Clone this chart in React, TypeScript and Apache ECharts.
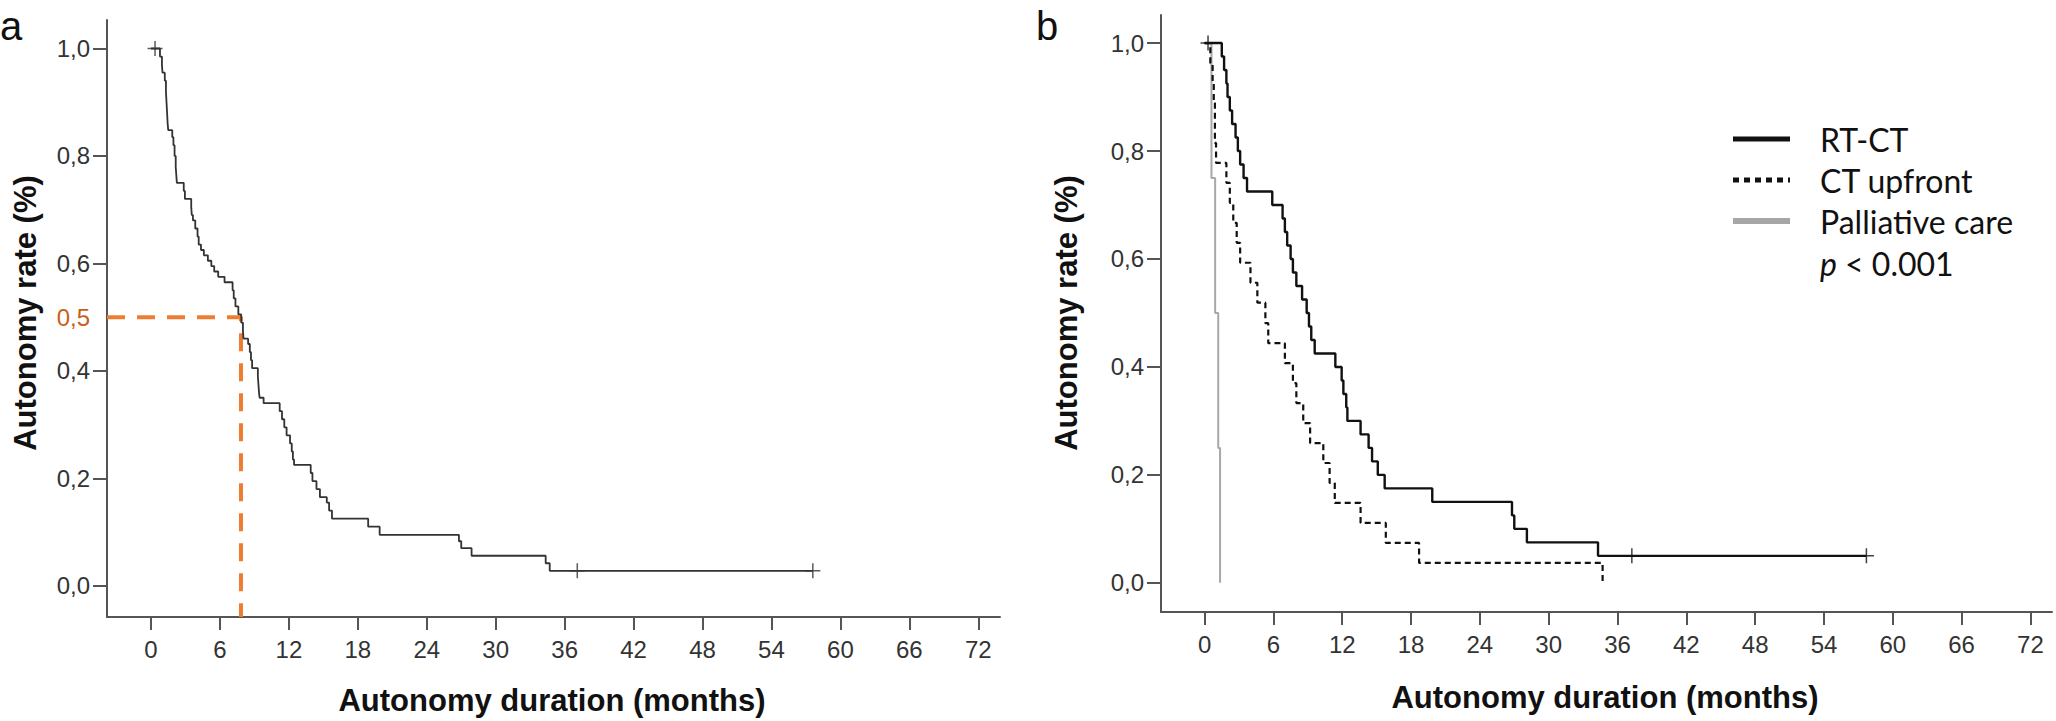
import { useEffect, useRef } from "react";
import * as echarts from "echarts";

// axis ticks
const monthTicks = [0, 6, 12, 18, 24, 30, 36, 42, 48, 54, 60, 66, 72];
const rateTicks = [0, 0.2, 0.4, 0.6, 0.8, 1.0];
const rateLabelsA = [0, 0.2, 0.4, 0.5, 0.6, 0.8, 1.0];

// panel a: whole cohort (month of event, rate after event)
const overallMonths = [
  0, 0.78, 0.95, 1.0, 1.2, 1.3, 1.35, 1.4, 1.45, 1.5, 1.85, 1.95, 2.05, 2.15, 2.2, 2.25,
  2.85, 2.95, 3.5, 3.55, 3.65, 3.85, 4.05, 4.15, 4.35, 4.6, 4.95, 5.25, 5.5, 5.85, 6.4,
  7.1, 7.2, 7.35, 7.6, 7.85, 8.0, 8.05, 8.45, 8.6, 8.7, 8.8, 9.3, 9.35, 9.4, 9.45, 9.8,
  11.2, 11.4, 11.6, 11.8, 12.1, 12.25, 12.35, 12.45, 13.9, 14.05, 14.4, 14.7, 15.3, 15.5,
  15.75, 18.9, 19.9, 26.8, 27.0, 27.9, 34.35, 34.7, 57.6,
];
const overallRate = [
  1, 0.985, 0.97, 0.955, 0.94, 0.92, 0.9, 0.88, 0.86, 0.848, 0.835, 0.82, 0.8, 0.78, 0.765, 0.75,
  0.735, 0.72, 0.705, 0.69, 0.68, 0.665, 0.65, 0.635, 0.625, 0.615, 0.605, 0.595, 0.585, 0.575, 0.565,
  0.55, 0.535, 0.52, 0.505, 0.49, 0.475, 0.46, 0.45, 0.435, 0.42, 0.405, 0.39, 0.375, 0.36, 0.35, 0.34,
  0.325, 0.31, 0.295, 0.28, 0.265, 0.25, 0.235, 0.225, 0.21, 0.195, 0.18, 0.165, 0.155, 0.14,
  0.125, 0.11, 0.095, 0.083, 0.07, 0.056, 0.042, 0.028, 0.028,
];
const overallCensorMonths = [0.35, 37.1, 57.6];
const overallCensorRate = [1, 0.028, 0.028];
const medianMonths = 7.83;
const medianRate = 0.5;

// panel b: by treatment
const rtctMonths = [
  0, 1.5, 1.7, 1.9, 2.0, 2.2, 2.4, 2.7, 2.9, 3.1, 3.4, 3.7, 5.9, 6.8, 7.0, 7.2, 7.5, 7.7, 8.0,
  8.5, 8.9, 9.1, 9.3, 9.6, 11.4, 11.95, 12.1, 12.35, 12.45, 13.6, 14.3, 14.6, 15.1, 15.7,
  19.85, 26.8, 27.0, 28.1, 34.3, 57.7,
];
const rtctRate = [
  1, 0.975, 0.95, 0.925, 0.9, 0.875, 0.85, 0.825, 0.8, 0.775, 0.75, 0.725, 0.7, 0.675, 0.65, 0.625, 0.6, 0.575, 0.55,
  0.525, 0.5, 0.475, 0.45, 0.425, 0.4, 0.375, 0.35, 0.325, 0.3, 0.275, 0.25, 0.225, 0.2, 0.175,
  0.15, 0.125, 0.1, 0.075, 0.05, 0.05,
];
const rtctCensorMonths = [0.3, 37.25, 57.7];
const rtctCensorRate = [1, 0.05, 0.05];

const ctMonths = [
  0, 0.5, 0.7, 0.8, 0.9, 1.0, 1.9, 2.2, 2.5, 2.8, 3.1, 4.0, 4.6, 5.3, 5.55, 7.0, 7.7, 8.0,
  8.6, 9.2, 10.35, 10.9, 11.35, 13.6, 15.8, 18.7, 34.7,
];
const ctRate = [
  1, 0.963, 0.926, 0.889, 0.815, 0.778, 0.741, 0.704, 0.667, 0.63, 0.593, 0.556, 0.519, 0.481, 0.444, 0.407, 0.37, 0.333,
  0.296, 0.259, 0.222, 0.185, 0.148, 0.111, 0.074, 0.037, 0,
];

const palliativeMonths = [0, 0.6, 0.92, 1.19, 1.35];
const palliativeRate = [1, 0.75, 0.5, 0.25, 0];

const legendLabels = ["RT-CT", "CT upfront", "Palliative care"];
const pValueLabel = "< 0.001";

const xTitle = "Autonomy duration (months)";
const yTitle = "Autonomy rate (%)";

const pairs = (xs: number[], ys: number[]) => xs.map((x, i) => [x, ys[i]]);

const tickFont = "Liberation Sans, Arial, sans-serif";
const legendFont = "Lato, 'Noto Sans', sans-serif";
const axisGray = "#555";
const plusSymbol =
  "path://M7.2,0 H8.8 V7.2 H16 V8.8 H8.8 V16 H7.2 V8.8 H0 V7.2 H7.2 Z";

const rateFormat = (v: number) => v.toFixed(1).replace(".", ",");

const makeXAxis = (gridIndex: number, min: number, max: number) => ({
  gridIndex,
  type: "value" as const,
  min,
  max,
  axisLine: { show: true, onZero: false, lineStyle: { color: axisGray, width: 2 } },
  axisTick: {
    show: true,
    length: 13,
    customValues: monthTicks,
    lineStyle: { color: axisGray, width: 2 },
  },
  axisLabel: {
    customValues: monthTicks,
    margin: 20,
    color: "#333",
    fontFamily: tickFont,
    fontSize: 24,
  },
  splitLine: { show: false },
});

const makeYAxis = (gridIndex: number, min: number, max: number, labels: number[]) => ({
  gridIndex,
  type: "value" as const,
  min,
  max,
  axisLine: { show: true, onZero: false, lineStyle: { color: axisGray, width: 2 } },
  axisTick: {
    show: true,
    length: 14,
    customValues: rateTicks,
    lineStyle: { color: axisGray, width: 2 },
  },
  axisLabel: {
    customValues: labels,
    margin: 17,
    color: "#333",
    fontFamily: tickFont,
    fontSize: 24,
    formatter: (v: number) =>
      Math.abs(v - medianRate) < 1e-6 ? `{o|${rateFormat(v)}}` : rateFormat(v),
    rich: {
      o: { color: "#c8601a", fontFamily: tickFont, fontSize: 24 },
    },
  },
  splitLine: { show: false },
});

const App = () => {
  const chartRef = useRef<HTMLDivElement | null>(null);

  useEffect(() => {
    if (!chartRef.current) {
      return;
    }
    const chart = echarts.init(chartRef.current, undefined, { renderer: "svg" });

    const stepLine = (
      data: number[][],
      axis: number,
      color: string,
      width: number,
      type: "solid" | number[] = "solid",
    ) => ({
      type: "line" as const,
      xAxisIndex: axis,
      yAxisIndex: axis,
      data,
      step: "end" as const,
      showSymbol: false,
      symbol: "none",
      lineStyle: { color, width, type },
      z: 3,
    });

    const censor = (data: number[][], axis: number, color: string) => ({
      type: "scatter" as const,
      xAxisIndex: axis,
      yAxisIndex: axis,
      data,
      symbol: plusSymbol,
      symbolSize: 15,
      itemStyle: { color },
      z: 4,
    });

    const titleStyle = {
      fontFamily: tickFont,
      fontWeight: "bold" as const,
      fontSize: 31,
      fill: "#111",
      align: "center" as const,
      verticalAlign: "middle" as const,
    };
    const legendTextStyle = {
      fontFamily: legendFont,
      fontSize: 32,
      fill: "#111",
      align: "left" as const,
      verticalAlign: "middle" as const,
    };
    const letterStyle = {
      fontFamily: tickFont,
      fontSize: 40,
      fill: "#111",
      align: "left" as const,
      verticalAlign: "middle" as const,
    };
    const legendRows = [139, 180, 221];
    const legendStrokes = [
      { stroke: "#111", lineWidth: 5 },
      { stroke: "#111", lineWidth: 5, lineDash: [6, 5] },
      { stroke: "#a6a6a6", lineWidth: 6 },
    ];

    const option: echarts.EChartsOption = {
      animation: false,
      backgroundColor: "#fff",
      grid: [
        { left: 107, top: 20, width: 893, height: 597 },
        { left: 1161, top: 15, width: 891, height: 597 },
      ],
      xAxis: [makeXAxis(0, -3.83, 73.89), makeXAxis(1, -3.8, 73.88)],
      yAxis: [
        makeYAxis(0, -0.058, 1.053, rateLabelsA),
        makeYAxis(1, -0.054, 1.052, rateTicks),
      ],
      series: [
        {
          type: "line",
          xAxisIndex: 0,
          yAxisIndex: 0,
          data: [
            [-3.83, medianRate],
            [medianMonths, medianRate],
            [medianMonths, -0.058],
          ],
          showSymbol: false,
          symbol: "none",
          lineStyle: { color: "#ed7d31", width: 4, type: [18, 12] },
          z: 2,
        },
        stepLine(pairs(overallMonths, overallRate), 0, "#333", 1.8),
        censor(pairs(overallCensorMonths, overallCensorRate), 0, "#333"),
        stepLine(pairs(palliativeMonths, palliativeRate), 1, "#a8a8a8", 2),
        stepLine(pairs(ctMonths, ctRate), 1, "#111", 2.2, [6, 4]),
        stepLine(pairs(rtctMonths, rtctRate), 1, "#111", 2.4),
        censor(pairs(rtctCensorMonths, rtctCensorRate), 1, "#111"),
      ],
      graphic: [
        { type: "text", x: 0, y: 26, style: { ...letterStyle, text: "a" } },
        { type: "text", x: 1036, y: 26, style: { ...letterStyle, text: "b" } },
        { type: "text", x: 552, y: 700, style: { ...titleStyle, text: xTitle } },
        { type: "text", x: 1605, y: 697, style: { ...titleStyle, text: xTitle } },
        {
          type: "text",
          x: 25,
          y: 313,
          rotation: Math.PI / 2,
          style: { ...titleStyle, text: yTitle },
        },
        {
          type: "text",
          x: 1066,
          y: 313,
          rotation: Math.PI / 2,
          style: { ...titleStyle, text: yTitle },
        },
        ...legendLabels.flatMap((label, i) => [
          {
            type: "line" as const,
            shape: { x1: 1733, y1: legendRows[i], x2: 1790, y2: legendRows[i] },
            style: legendStrokes[i],
          },
          {
            type: "text" as const,
            x: 1820,
            y: legendRows[i],
            style: { ...legendTextStyle, text: label },
          },
        ]),
        {
          type: "text",
          x: 1820,
          y: 263,
          style: {
            ...legendTextStyle,
            text: `{i|p} ${pValueLabel}`,
            rich: {
              i: { fontStyle: "italic", fontFamily: legendFont, fontSize: 32, fill: "#111" },
            },
          },
        },
      ],
    };

    chart.setOption(option);

    return () => {
      chart.dispose();
    };
  }, []);

  return (
    <div
      ref={chartRef}
      style={{ position: "fixed", left: 0, top: 0, width: 2056, height: 721, background: "#fff" }}
    />
  );
};

export default App;
